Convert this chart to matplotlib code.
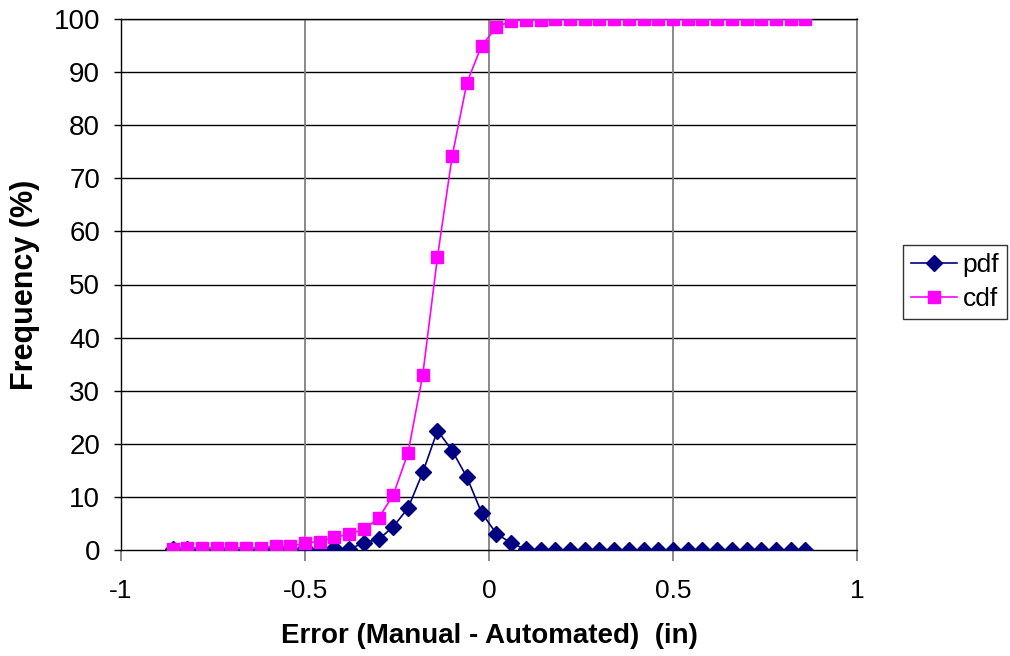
import matplotlib
matplotlib.use("Agg")
import matplotlib.pyplot as plt
import numpy as np

# bin centres, -0.86 .. 0.86 in steps of 0.04
error_in = np.round(np.arange(-0.86, 0.861, 0.04), 2)

pdf_pct = [0.1, 0.2, 0.0, 0.0, 0.0, 0.0, 0.0, 0.3, 0.0, 0.3, 0.0, 0.4, 0.1, 1.4, 2.0,
           4.4, 7.9, 14.6, 22.5, 18.7, 13.7, 7.0, 3.1, 1.3, 0.1, 0.0, 0.0, 0.0, 0.0, 0.0,
           0.0, 0.0, 0.0, 0.0, 0.0, 0.0, 0.0, 0.0, 0.0, 0.0, 0.0, 0.0, 0.0, 0.0]
cdf_pct = [0.1, 0.4, 0.4, 0.4, 0.4, 0.4, 0.4, 0.7, 0.7, 1.3, 1.6, 2.4, 3.0, 3.9, 6.0,
           10.4, 18.3, 33.0, 55.2, 74.2, 88.0, 95.0, 98.4, 99.7, 99.8, 99.9, 100.0, 100.0,
           100.0, 100.0, 100.0, 100.0, 100.0, 100.0, 100.0, 100.0, 100.0, 100.0, 100.0,
           100.0, 100.0, 100.0, 100.0, 100.0]

x_ticks = [-1, -0.5, 0, 0.5, 1]
x_tick_labels = ["-1", "-0.5", "0", "0.5", "1"]
y_ticks = list(range(0, 101, 10))

plt.rcParams["font.family"] = ["Liberation Sans", "DejaVu Sans"]


def main() -> None:
    fig = plt.figure(figsize=(10.1, 6.56), dpi=100)
    ax = fig.add_axes([121 / 1010, 1 - 550 / 656, (857 - 121) / 1010, (550 - 19) / 656])

    ax.set_xlim(-1, 1)
    ax.set_ylim(0, 100)

    for y in y_ticks[1:]:
        ax.axhline(y, color="#000000", linewidth=1.0, zorder=1)
    for x in x_ticks[1:]:
        ax.axvline(x, color="#808080", linewidth=1.3, zorder=1)

    ax.plot(error_in, pdf_pct, color="#000080", linewidth=1.2, marker="D",
            markersize=8.5, label="pdf", zorder=3)
    ax.plot(error_in, cdf_pct, color="#FF00FF", linewidth=1.2, marker="s",
            markersize=9, label="cdf", zorder=4)

    ax.set_yticks(y_ticks)
    ax.set_yticklabels([str(v) for v in y_ticks], fontsize=20)
    ax.set_xticks(x_ticks)
    ax.set_xticklabels(x_tick_labels, fontsize=19)

    ax.tick_params(axis="y", direction="out", length=5, width=1, color="black", pad=10)
    ax.tick_params(axis="x", direction="out", length=8, width=1.3, color="#808080", pad=13)

    for side in ("left", "bottom", "top"):
        ax.spines[side].set_color("black")
        ax.spines[side].set_linewidth(1.0)
    ax.spines["right"].set_color("#808080")
    ax.spines["right"].set_linewidth(1.3)

    ax.set_xlabel("Error (Manual - Automated)  (in)", fontsize=20, fontweight="bold",
                  labelpad=14)
    ax.set_ylabel("Frequency (%)", fontsize=22, fontweight="bold", labelpad=10)

    leg = ax.legend(loc="upper left", bbox_to_anchor=(903 / 1010, 1 - 245 / 656),
                    bbox_transform=fig.transFigure, fontsize=19, frameon=True,
                    fancybox=False, edgecolor="black", handlelength=1.75,
                    borderaxespad=0, borderpad=0.3, labelspacing=0.4, handletextpad=0.2)
    leg.get_frame().set_linewidth(1.0)

    fig.savefig("out.png", dpi=100)
    plt.close(fig)


if __name__ == "__main__":
    main()
